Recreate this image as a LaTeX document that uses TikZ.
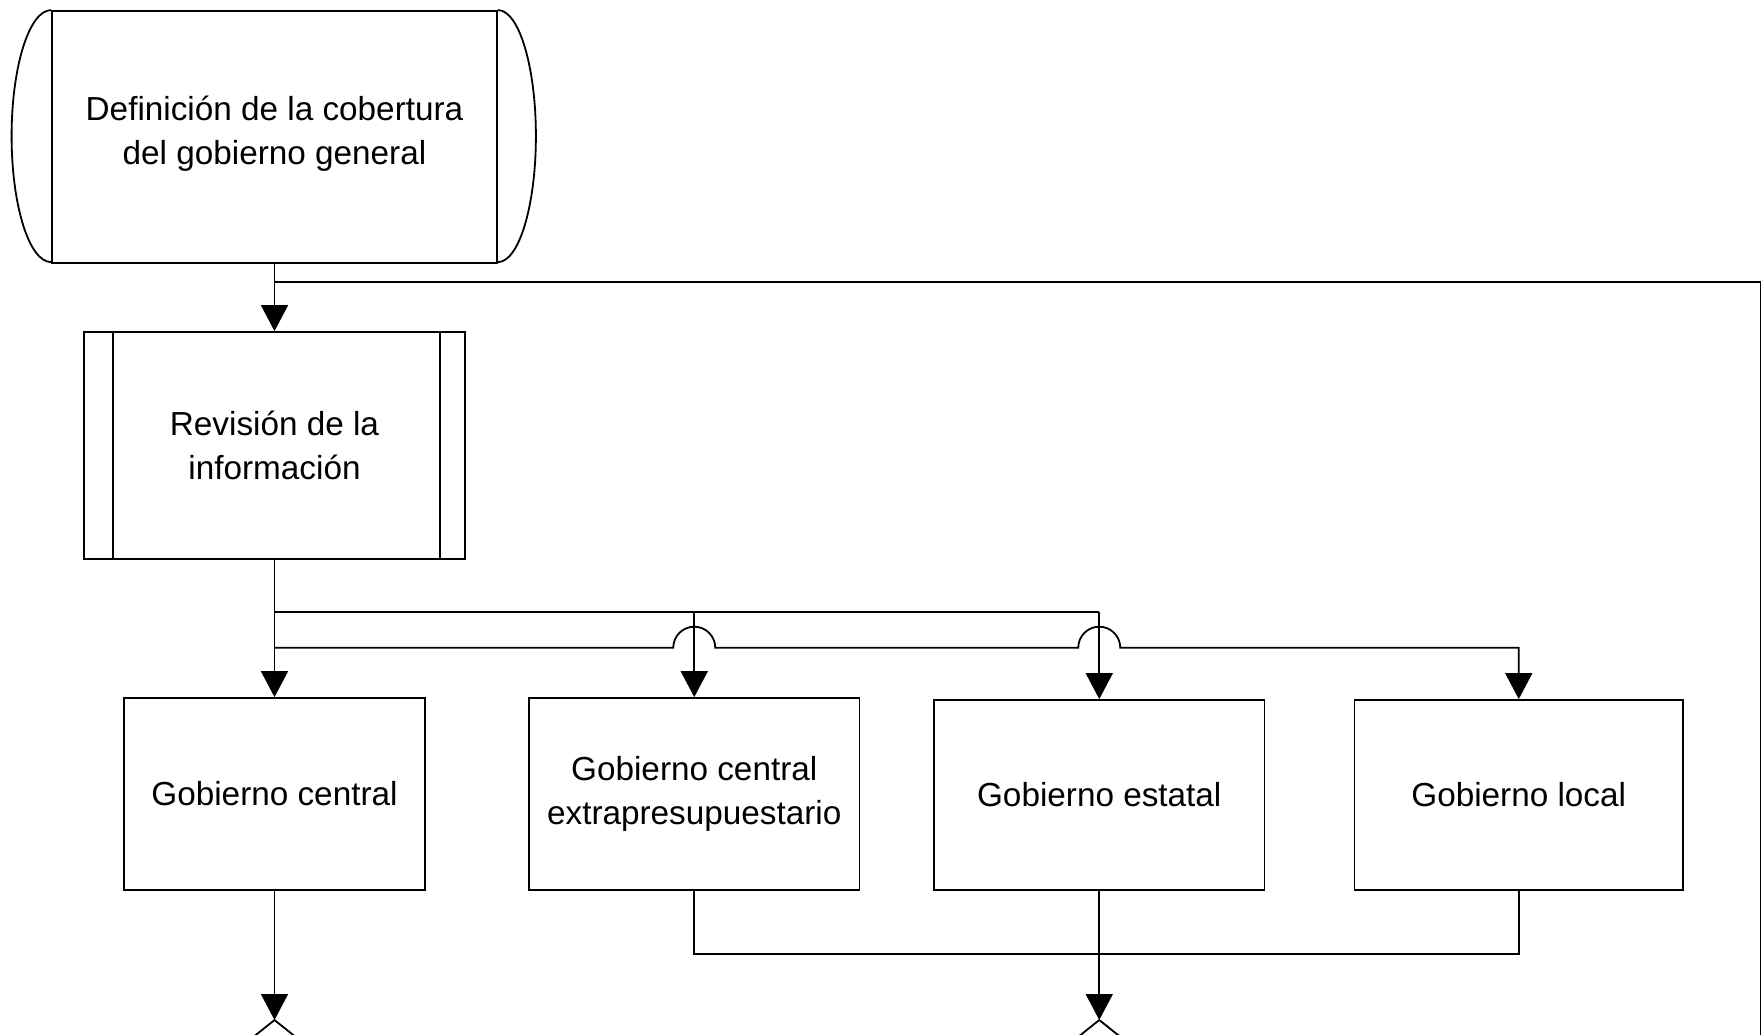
\documentclass[tikz,border=0pt]{standalone}
\usepackage{fontspec}
\setmainfont{Liberation Sans}
\usetikzlibrary{arrows.meta,calc}
\begin{document}
\begin{tikzpicture}[x=1pt,y=-1pt,
  ln/.style={line width=1.8pt},
  arr/.style={line width=1.8pt,-{Triangle[length=26pt,width=27pt]}},
  box/.style={draw,line width=1.8pt,inner sep=0pt,align=center,font=\fontsize{33.3pt}{44pt}\selectfont},
]
\useasboundingbox (0,0) rectangle (1764,1035);
\clip (0,0) rectangle (1764,1035);

% nodes
\node[box,minimum width=445pt,minimum height=252pt,text depth=14pt] (top) at (274.5,137) {Definición de la cobertura\\del gobierno general};
\draw[ln] (top.north west) arc[start angle=90,end angle=270,x radius=39.5pt,y radius=126pt];
\draw[ln] (top.north east) arc[start angle=90,end angle=-90,x radius=38pt,y radius=126pt];

\node[box,minimum width=381pt,minimum height=227pt] (rev) at (274.5,445.5) {Revisión de la\\información};
\draw[ln] ([xshift=30pt]rev.north west) -- ([xshift=30pt]rev.south west);
\draw[ln] ([xshift=-26pt]rev.north east) -- ([xshift=-26pt]rev.south east);

\node[box,minimum width=301pt,minimum height=192pt] (gc) at (274.5,794) {Gobierno central};
\node[box,minimum width=330.5pt,minimum height=192pt] (gce) at (694.25,794) {Gobierno central\\extrapresupuestario};
\node[box,minimum width=330.5pt,minimum height=190pt] (ge) at (1099.25,795) {Gobierno estatal};
\node[box,minimum width=328.5pt,minimum height=190pt] (gl) at (1518.75,795) {Gobierno local};

% connectors from top
\coordinate (r0) at (274.5,282);
\coordinate (r1) at (1760.5,1040);
\draw[arr] (top.south) -- (rev.north);
\draw[ln] (r0) -| (r1);

% from revision
\coordinate (u0) at (274.5,611.7);
\coordinate (u1) at (694.25,611.7);
\coordinate (u2) at (1099.25,611.7);
\coordinate (l0) at (274.5,647.7);
\coordinate (l1) at (1518.75,647.7);
\draw[arr] (rev.south) -- (gc.north);
\draw[ln] (u0) -- (u2);
\draw[arr] (u1) -- (gce.north);
\draw[arr] (u2) -- (ge.north);
\draw[arr] (l0) -- (673.25,647.7) arc[start angle=180,end angle=0,radius=21pt]
  -- (1078.25,647.7) arc[start angle=180,end angle=0,radius=21pt]
  -- (l1) -- (gl.north);

% bottom
\coordinate (d1) at (274.5,1020);
\coordinate (d2) at (1099.25,1020);
\coordinate (m1) at (694.25,954);
\draw[ln] (gce.south) -- (m1) -| (gl.south);
\draw[arr] (gc.south) -- (d1);
\draw[arr] (ge.south) -- (d2);
\draw[ln] ($(d1)+(-40,32)$) -- (d1) -- ($(d1)+(40,32)$);
\draw[ln] ($(d2)+(-40,32)$) -- (d2) -- ($(d2)+(40,32)$);
\end{tikzpicture}
\end{document}
